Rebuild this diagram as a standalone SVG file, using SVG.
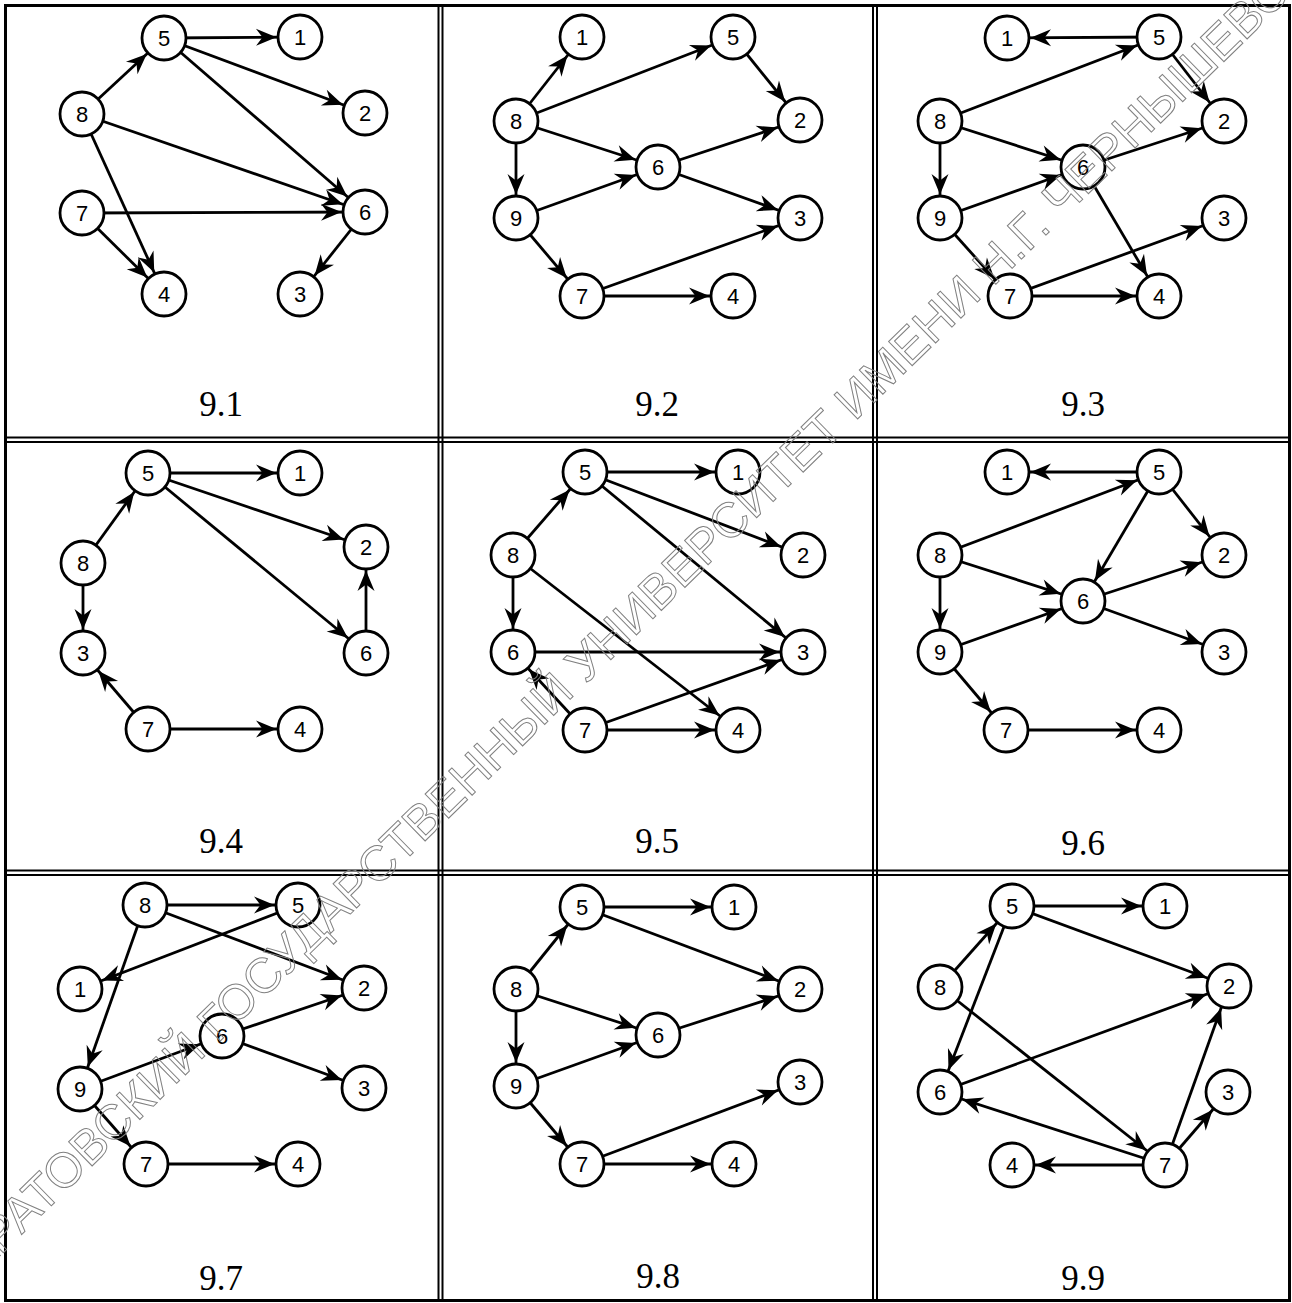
<svg xmlns="http://www.w3.org/2000/svg" width="1292" height="1303" viewBox="0 0 1292 1303">
<style>
.bg{fill:#fff}
.frame{fill:none;stroke:#000;stroke-width:3}
.grid{stroke:#000;stroke-width:2}
.edges line{stroke:#000;stroke-width:2.8;marker-end:url(#arr)}
.node circle{fill:#fff;stroke:#000;stroke-width:2.8}
.node text{font-family:"Liberation Sans Narrow","Liberation Sans",Arial,sans-serif;font-size:22px;text-anchor:middle;fill:#000}
.cap{font-family:"Liberation Serif","Times New Roman",serif;font-size:35px;text-anchor:middle;fill:#000}
.wm{font-family:"Liberation Sans",Arial,sans-serif;font-size:49px;fill:none;stroke:#808080;stroke-width:1;text-anchor:middle}
</style>
<defs>
<marker id="arr" markerUnits="userSpaceOnUse" viewBox="-50 -12 50 24" markerWidth="50" markerHeight="24" refX="0" refY="0" orient="auto" overflow="visible">
<path d="M-23.5,0 L-44,-8.5 L-37.5,0 L-44,8.5 Z" fill="#000"/>
</marker>
</defs>
<rect class="bg" x="0" y="0" width="1292" height="1303"/>
<g id="table">
<rect class="frame" x="5.5" y="5.5" width="1284" height="1295"/>
<line class="grid" x1="438.5" y1="5" x2="438.5" y2="1301"/>
<line class="grid" x1="442.5" y1="5" x2="442.5" y2="1301"/>
<line class="grid" x1="873" y1="5" x2="873" y2="1301"/>
<line class="grid" x1="877" y1="5" x2="877" y2="1301"/>
<line class="grid" x1="5" y1="437.5" x2="1290" y2="437.5"/>
<line class="grid" x1="5" y1="442" x2="1290" y2="442"/>
<line class="grid" x1="5" y1="870.5" x2="1290" y2="870.5"/>
<line class="grid" x1="5" y1="875" x2="1290" y2="875"/>
</g>

<g id="connectors">
<g id="edges-9-1" class="edges">
<line x1="164" y1="38" x2="300" y2="37"/>
<line x1="164" y1="38" x2="365" y2="113"/>
<line x1="164" y1="38" x2="365" y2="212"/>
<line x1="82" y1="114" x2="164" y2="38"/>
<line x1="82" y1="114" x2="365" y2="212"/>
<line x1="82" y1="114" x2="164" y2="294"/>
<line x1="82" y1="213" x2="365" y2="212"/>
<line x1="82" y1="213" x2="164" y2="294"/>
<line x1="365" y1="212" x2="300" y2="294"/>
</g>
<g id="edges-9-2" class="edges">
<line x1="516" y1="121" x2="582" y2="37"/>
<line x1="516" y1="121" x2="733" y2="37"/>
<line x1="516" y1="121" x2="658" y2="167"/>
<line x1="516" y1="121" x2="516" y2="218"/>
<line x1="733" y1="37" x2="800" y2="120"/>
<line x1="658" y1="167" x2="800" y2="120"/>
<line x1="658" y1="167" x2="800" y2="218"/>
<line x1="516" y1="218" x2="658" y2="167"/>
<line x1="516" y1="218" x2="582" y2="296"/>
<line x1="582" y1="296" x2="800" y2="218"/>
<line x1="582" y1="296" x2="733" y2="296"/>
</g>
<g id="edges-9-3" class="edges">
<line x1="1159" y1="37" x2="1007" y2="38"/>
<line x1="940" y1="121" x2="1159" y2="37"/>
<line x1="1159" y1="37" x2="1224" y2="121"/>
<line x1="940" y1="121" x2="1083" y2="167"/>
<line x1="940" y1="121" x2="940" y2="218"/>
<line x1="1083" y1="167" x2="1224" y2="121"/>
<line x1="940" y1="218" x2="1083" y2="167"/>
<line x1="1083" y1="167" x2="1159" y2="296"/>
<line x1="940" y1="218" x2="1010" y2="296"/>
<line x1="1010" y1="296" x2="1224" y2="218"/>
<line x1="1010" y1="296" x2="1159" y2="296"/>
</g>
<g id="edges-9-4" class="edges">
<line x1="148" y1="473" x2="300" y2="473"/>
<line x1="148" y1="473" x2="366" y2="547"/>
<line x1="148" y1="473" x2="366" y2="653"/>
<line x1="83" y1="563" x2="148" y2="473"/>
<line x1="83" y1="563" x2="83" y2="653"/>
<line x1="366" y1="653" x2="366" y2="547"/>
<line x1="148" y1="729" x2="83" y2="653"/>
<line x1="148" y1="729" x2="300" y2="729"/>
</g>
<g id="edges-9-5" class="edges">
<line x1="585" y1="472" x2="738" y2="472"/>
<line x1="585" y1="472" x2="803" y2="555"/>
<line x1="585" y1="472" x2="803" y2="652"/>
<line x1="513" y1="555" x2="585" y2="472"/>
<line x1="513" y1="555" x2="513" y2="652"/>
<line x1="513" y1="555" x2="738" y2="730"/>
<line x1="513" y1="652" x2="803" y2="652"/>
<line x1="585" y1="730" x2="513" y2="652"/>
<line x1="585" y1="730" x2="803" y2="652"/>
<line x1="585" y1="730" x2="738" y2="730"/>
</g>
<g id="edges-9-6" class="edges">
<line x1="1159" y1="472" x2="1007" y2="472"/>
<line x1="940" y1="555" x2="1159" y2="472"/>
<line x1="1159" y1="472" x2="1083" y2="601"/>
<line x1="1159" y1="472" x2="1224" y2="555"/>
<line x1="940" y1="555" x2="1083" y2="601"/>
<line x1="940" y1="555" x2="940" y2="652"/>
<line x1="1083" y1="601" x2="1224" y2="555"/>
<line x1="1083" y1="601" x2="1224" y2="652"/>
<line x1="940" y1="652" x2="1083" y2="601"/>
<line x1="940" y1="652" x2="1006" y2="730"/>
<line x1="1006" y1="730" x2="1159" y2="730"/>
</g>
<g id="edges-9-7" class="edges">
<line x1="145" y1="905" x2="298" y2="905"/>
<line x1="145" y1="905" x2="364" y2="988"/>
<line x1="298" y1="905" x2="80" y2="989"/>
<line x1="145" y1="905" x2="80" y2="1089"/>
<line x1="80" y1="1089" x2="222" y2="1036"/>
<line x1="222" y1="1036" x2="364" y2="988"/>
<line x1="222" y1="1036" x2="364" y2="1088"/>
<line x1="80" y1="1089" x2="146" y2="1164"/>
<line x1="146" y1="1164" x2="298" y2="1164"/>
</g>
<g id="edges-9-8" class="edges">
<line x1="582" y1="907" x2="734" y2="907"/>
<line x1="582" y1="907" x2="800" y2="989"/>
<line x1="516" y1="989" x2="582" y2="907"/>
<line x1="516" y1="989" x2="658" y2="1035"/>
<line x1="516" y1="989" x2="516" y2="1086"/>
<line x1="658" y1="1035" x2="800" y2="989"/>
<line x1="516" y1="1086" x2="658" y2="1035"/>
<line x1="516" y1="1086" x2="582" y2="1164"/>
<line x1="582" y1="1164" x2="800" y2="1082"/>
<line x1="582" y1="1164" x2="734" y2="1164"/>
</g>
<g id="edges-9-9" class="edges">
<line x1="1012" y1="906" x2="1165" y2="906"/>
<line x1="1012" y1="906" x2="1229" y2="986"/>
<line x1="940" y1="987" x2="1012" y2="906"/>
<line x1="1012" y1="906" x2="940" y2="1092"/>
<line x1="940" y1="987" x2="1165" y2="1165"/>
<line x1="940" y1="1092" x2="1229" y2="986"/>
<line x1="1165" y1="1165" x2="940" y2="1092"/>
<line x1="1165" y1="1165" x2="1012" y2="1165"/>
<line x1="1165" y1="1165" x2="1229" y2="986"/>
<line x1="1165" y1="1165" x2="1228" y2="1092"/>
</g>
</g>

<g id="graph-9-1">
<g id="n91-5" class="node"><circle cx="164" cy="38" r="22"/><text x="164" y="46">5</text></g>
<g id="n91-1" class="node"><circle cx="300" cy="37" r="22"/><text x="300" y="45">1</text></g>
<g id="n91-8" class="node"><circle cx="82" cy="114" r="22"/><text x="82" y="122">8</text></g>
<g id="n91-2" class="node"><circle cx="365" cy="113" r="22"/><text x="365" y="121">2</text></g>
<g id="n91-7" class="node"><circle cx="82" cy="213" r="22"/><text x="82" y="221">7</text></g>
<g id="n91-6" class="node"><circle cx="365" cy="212" r="22"/><text x="365" y="220">6</text></g>
<g id="n91-4" class="node"><circle cx="164" cy="294" r="22"/><text x="164" y="302">4</text></g>
<g id="n91-3" class="node"><circle cx="300" cy="294" r="22"/><text x="300" y="302">3</text></g>
<text class="cap" x="221" y="416">9.1</text>
</g>

<g id="graph-9-2">
<g id="n92-1" class="node"><circle cx="582" cy="37" r="22"/><text x="582" y="45">1</text></g>
<g id="n92-5" class="node"><circle cx="733" cy="37" r="22"/><text x="733" y="45">5</text></g>
<g id="n92-8" class="node"><circle cx="516" cy="121" r="22"/><text x="516" y="129">8</text></g>
<g id="n92-2" class="node"><circle cx="800" cy="120" r="22"/><text x="800" y="128">2</text></g>
<g id="n92-6" class="node"><circle cx="658" cy="167" r="22"/><text x="658" y="175">6</text></g>
<g id="n92-9" class="node"><circle cx="516" cy="218" r="22"/><text x="516" y="226">9</text></g>
<g id="n92-3" class="node"><circle cx="800" cy="218" r="22"/><text x="800" y="226">3</text></g>
<g id="n92-7" class="node"><circle cx="582" cy="296" r="22"/><text x="582" y="304">7</text></g>
<g id="n92-4" class="node"><circle cx="733" cy="296" r="22"/><text x="733" y="304">4</text></g>
<text class="cap" x="657" y="416">9.2</text>
</g>

<g id="graph-9-3">
<g id="n93-1" class="node"><circle cx="1007" cy="38" r="22"/><text x="1007" y="46">1</text></g>
<g id="n93-5" class="node"><circle cx="1159" cy="37" r="22"/><text x="1159" y="45">5</text></g>
<g id="n93-8" class="node"><circle cx="940" cy="121" r="22"/><text x="940" y="129">8</text></g>
<g id="n93-2" class="node"><circle cx="1224" cy="121" r="22"/><text x="1224" y="129">2</text></g>
<g id="n93-6" class="node"><circle cx="1083" cy="167" r="22"/><text x="1083" y="175">6</text></g>
<g id="n93-9" class="node"><circle cx="940" cy="218" r="22"/><text x="940" y="226">9</text></g>
<g id="n93-3" class="node"><circle cx="1224" cy="218" r="22"/><text x="1224" y="226">3</text></g>
<g id="n93-7" class="node"><circle cx="1010" cy="296" r="22"/><text x="1010" y="304">7</text></g>
<g id="n93-4" class="node"><circle cx="1159" cy="296" r="22"/><text x="1159" y="304">4</text></g>
<text class="cap" x="1083" y="416">9.3</text>
</g>

<g id="graph-9-4">
<g id="n94-5" class="node"><circle cx="148" cy="473" r="22"/><text x="148" y="481">5</text></g>
<g id="n94-1" class="node"><circle cx="300" cy="473" r="22"/><text x="300" y="481">1</text></g>
<g id="n94-8" class="node"><circle cx="83" cy="563" r="22"/><text x="83" y="571">8</text></g>
<g id="n94-2" class="node"><circle cx="366" cy="547" r="22"/><text x="366" y="555">2</text></g>
<g id="n94-3" class="node"><circle cx="83" cy="653" r="22"/><text x="83" y="661">3</text></g>
<g id="n94-6" class="node"><circle cx="366" cy="653" r="22"/><text x="366" y="661">6</text></g>
<g id="n94-7" class="node"><circle cx="148" cy="729" r="22"/><text x="148" y="737">7</text></g>
<g id="n94-4" class="node"><circle cx="300" cy="729" r="22"/><text x="300" y="737">4</text></g>
<text class="cap" x="221" y="853">9.4</text>
</g>

<g id="graph-9-5">
<g id="n95-5" class="node"><circle cx="585" cy="472" r="22"/><text x="585" y="480">5</text></g>
<g id="n95-1" class="node"><circle cx="738" cy="472" r="22"/><text x="738" y="480">1</text></g>
<g id="n95-8" class="node"><circle cx="513" cy="555" r="22"/><text x="513" y="563">8</text></g>
<g id="n95-2" class="node"><circle cx="803" cy="555" r="22"/><text x="803" y="563">2</text></g>
<g id="n95-6" class="node"><circle cx="513" cy="652" r="22"/><text x="513" y="660">6</text></g>
<g id="n95-3" class="node"><circle cx="803" cy="652" r="22"/><text x="803" y="660">3</text></g>
<g id="n95-7" class="node"><circle cx="585" cy="730" r="22"/><text x="585" y="738">7</text></g>
<g id="n95-4" class="node"><circle cx="738" cy="730" r="22"/><text x="738" y="738">4</text></g>
<text class="cap" x="657" y="853">9.5</text>
</g>

<g id="graph-9-6">
<g id="n96-1" class="node"><circle cx="1007" cy="472" r="22"/><text x="1007" y="480">1</text></g>
<g id="n96-5" class="node"><circle cx="1159" cy="472" r="22"/><text x="1159" y="480">5</text></g>
<g id="n96-8" class="node"><circle cx="940" cy="555" r="22"/><text x="940" y="563">8</text></g>
<g id="n96-2" class="node"><circle cx="1224" cy="555" r="22"/><text x="1224" y="563">2</text></g>
<g id="n96-6" class="node"><circle cx="1083" cy="601" r="22"/><text x="1083" y="609">6</text></g>
<g id="n96-9" class="node"><circle cx="940" cy="652" r="22"/><text x="940" y="660">9</text></g>
<g id="n96-3" class="node"><circle cx="1224" cy="652" r="22"/><text x="1224" y="660">3</text></g>
<g id="n96-7" class="node"><circle cx="1006" cy="730" r="22"/><text x="1006" y="738">7</text></g>
<g id="n96-4" class="node"><circle cx="1159" cy="730" r="22"/><text x="1159" y="738">4</text></g>
<text class="cap" x="1083" y="855">9.6</text>
</g>

<g id="graph-9-7">
<g id="n97-8" class="node"><circle cx="145" cy="905" r="22"/><text x="145" y="913">8</text></g>
<g id="n97-5" class="node"><circle cx="298" cy="905" r="22"/><text x="298" y="913">5</text></g>
<g id="n97-1" class="node"><circle cx="80" cy="989" r="22"/><text x="80" y="997">1</text></g>
<g id="n97-2" class="node"><circle cx="364" cy="988" r="22"/><text x="364" y="996">2</text></g>
<g id="n97-6" class="node"><circle cx="222" cy="1036" r="22"/><text x="222" y="1044">6</text></g>
<g id="n97-9" class="node"><circle cx="80" cy="1089" r="22"/><text x="80" y="1097">9</text></g>
<g id="n97-3" class="node"><circle cx="364" cy="1088" r="22"/><text x="364" y="1096">3</text></g>
<g id="n97-7" class="node"><circle cx="146" cy="1164" r="22"/><text x="146" y="1172">7</text></g>
<g id="n97-4" class="node"><circle cx="298" cy="1164" r="22"/><text x="298" y="1172">4</text></g>
<text class="cap" x="221" y="1290">9.7</text>
</g>

<g id="graph-9-8">
<g id="n98-5" class="node"><circle cx="582" cy="907" r="22"/><text x="582" y="915">5</text></g>
<g id="n98-1" class="node"><circle cx="734" cy="907" r="22"/><text x="734" y="915">1</text></g>
<g id="n98-8" class="node"><circle cx="516" cy="989" r="22"/><text x="516" y="997">8</text></g>
<g id="n98-2" class="node"><circle cx="800" cy="989" r="22"/><text x="800" y="997">2</text></g>
<g id="n98-6" class="node"><circle cx="658" cy="1035" r="22"/><text x="658" y="1043">6</text></g>
<g id="n98-9" class="node"><circle cx="516" cy="1086" r="22"/><text x="516" y="1094">9</text></g>
<g id="n98-3" class="node"><circle cx="800" cy="1082" r="22"/><text x="800" y="1090">3</text></g>
<g id="n98-7" class="node"><circle cx="582" cy="1164" r="22"/><text x="582" y="1172">7</text></g>
<g id="n98-4" class="node"><circle cx="734" cy="1164" r="22"/><text x="734" y="1172">4</text></g>
<text class="cap" x="658" y="1288">9.8</text>
</g>

<g id="graph-9-9">
<g id="n99-5" class="node"><circle cx="1012" cy="906" r="22"/><text x="1012" y="914">5</text></g>
<g id="n99-1" class="node"><circle cx="1165" cy="906" r="22"/><text x="1165" y="914">1</text></g>
<g id="n99-8" class="node"><circle cx="940" cy="987" r="22"/><text x="940" y="995">8</text></g>
<g id="n99-2" class="node"><circle cx="1229" cy="986" r="22"/><text x="1229" y="994">2</text></g>
<g id="n99-6" class="node"><circle cx="940" cy="1092" r="22"/><text x="940" y="1100">6</text></g>
<g id="n99-3" class="node"><circle cx="1228" cy="1092" r="22"/><text x="1228" y="1100">3</text></g>
<g id="n99-4" class="node"><circle cx="1012" cy="1165" r="22"/><text x="1012" y="1173">4</text></g>
<g id="n99-7" class="node"><circle cx="1165" cy="1165" r="22"/><text x="1165" y="1173">7</text></g>
<text class="cap" x="1083" y="1290">9.9</text>
</g>

<text class="wm" x="668" y="604" transform="rotate(-44.3 668 604)">САРАТОВСКИЙ ГОСУДАРСТВЕННЫЙ УНИВЕРСИТЕТ ИМЕНИ Н.Г. ЧЕРНЫШЕВСКОГО</text>
</svg>
